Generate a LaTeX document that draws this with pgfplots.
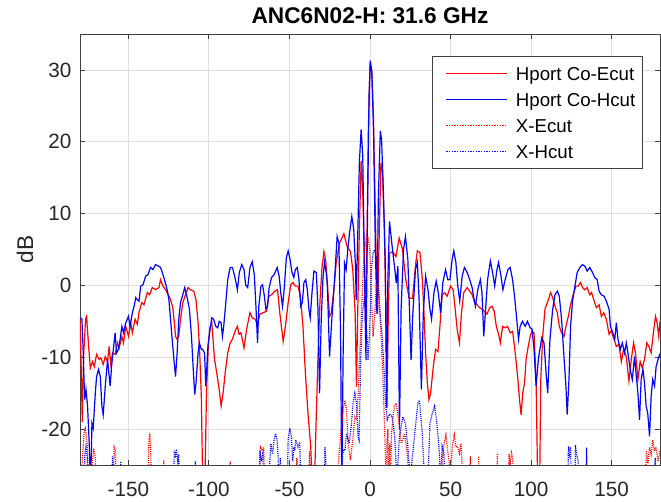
\documentclass[border=0pt]{standalone}
\usepackage{fontspec}
\setmainfont{Liberation Sans}
\usepackage{pgfplots}
\pgfplotsset{compat=1.18}
\begin{document}
\begin{tikzpicture}
\begin{axis}[
  name=ax,
  scale only axis, width=435pt, height=323.25pt,
  xmin=-180, xmax=180, ymin=-25, ymax=35,
  xtick={-150,-100,-50,0,50,100,150},
  xticklabels={-150,-100,-50,0,50,100,150},
  ytick={-20,-10,0,10,20,30},
  yticklabels={-20,-10,0,10,20,30},
  tick align=inside,
  major tick length=4pt,
  grid=major,
  grid style={draw=black!13, line width=0.6pt},
  axis line style={draw=black!75, line width=0.6pt},
  tick style={draw=black!75, line width=0.6pt},
  ticklabel style={font=\fontsize{15.5}{18}\selectfont, text=black!85},
  xticklabel style={anchor=base, yshift=-24pt},
  yticklabel style={xshift=-3pt},
  title={\bfseries ANC6N02-H: 31.6 GHz},
  title style={font=\fontsize{17}{20}\selectfont, at={(0.5,1)}, anchor=base, yshift=1.75pt},
  ylabel={dB},
  every axis y label/.style={at={(axis description cs:0,0.5)}, xshift=-41.25pt, rotate=90, anchor=center, font=\fontsize{17}{20}\selectfont, text=black!85},
  legend style={at={(1,1)}, anchor=north east, xshift=-12.75pt, yshift=-16.5pt,
    draw=black!75, line width=0.6pt, fill=white,
    font=\fontsize{14}{16}\selectfont,
    inner xsep=3.5pt, inner ysep=3pt, row sep=0pt,
    cells={anchor=west},
    nodes={inner xsep=2pt, inner ysep=2.75pt, text height=12pt, text depth=2pt}},
]
\addplot[color=red, draw=red, line width=0.9pt,
  legend image code/.code={\path (-6.25pt,0pt) (49.75pt,0pt); \draw[draw=red, solid, line width=1.1pt] (0pt,0pt) -- (45.75pt,0pt);}] table {
-180 -4.5
-179.2 -12
-178.6 -19
-177.8 -10
-176.5 -4.6
-175.9 -4.3
-174.8 -8
-173.6 -11.5
-172.2 -10.6
-171.1 -11.3
-169.7 -9.6
-168.1 -10.3
-167 -10.1
-165.6 -11
-164.3 -9.9
-162.9 -10.6
-161.9 -8.5
-160.9 -11
-159.8 -9.4
-158.2 -9.6
-156.7 -8
-155.7 -8.7
-154 -7.1
-153 -8
-151.6 -5.7
-149.9 -7.1
-148.5 -5.2
-147.5 -6.6
-145.8 -4.7
-144.4 -5.4
-143.4 -3.8
-141.7 -2.4
-140.3 -2.7
-138.2 -1
-136.8 -1.3
-135.1 -0.3
-133.1 -0.6
-131 -0.3
-130 0.8
-128.5 -0.1
-126.9 -0.6
-125.2 -1.3
-123.8 -2
-122.4 -3.1
-121.5 -5
-120.7 -7.1
-119.7 -7.5
-118.7 -7.1
-117.6 -4.7
-116.2 -2.4
-114.5 -1.3
-112.9 -0.3
-111.5 -0.6
-109.4 -0.8
-108 -2
-106.7 -5.2
-105.7 -9.4
-104.7 -15.4
-103.8 -28
-102.5 -28
-101.5 -15
-100.3 -8
-99.2 -5.7
-98.2 -5.2
-96.5 -10.3
-95.1 -12.2
-93.6 -14.5
-92.4 -16.8
-91.2 -15
-89.9 -12.2
-88.3 -9.4
-86.8 -8
-85.4 -7.5
-83.8 -6.4
-82.3 -5.7
-81.3 -6.8
-80.1 -6.6
-78.2 -8.7
-76.6 -6.1
-74.5 -3.8
-73.1 -4.5
-71.4 -4.7
-69.8 -5.4
-68.3 -4
-66.3 -3.8
-64.2 -3.6
-62.8 -1.5
-61.1 -1.3
-59.1 -0.8
-57.4 -0.6
-56 -3.8
-53.9 -7.8
-52.5 -5.7
-50.8 -2.4
-49.2 0.1
-47.8 0.4
-46.3 -0.1
-44.7 -0.1
-43.2 -1.5
-41.6 -5.7
-40.1 -12.2
-38.5 -17.8
-36.8 -22.4
-35.8 -28
-34.5 -28
-33.3 -17.8
-32.3 -10
-31 -2
-29.8 2.5
-28.6 4.7
-27.5 3.5
-26.5 0.3
-25.1 -4.3
-24.1 -3.9
-22.4 -0.6
-21 3.1
-18.9 5.9
-16.2 7.2
-14.2 5.4
-12.1 4.7
-10.7 2.2
-9.2 -3.9
-8.4 -14.1
-7.6 -3.4
-6.6 7.8
-5.5 17.3
-4.5 13.3
-3.5 3.1
-2.8 -6
-1.8 7.8
-1 21.7
0 30.6
1 30.1
2.1 24
3.1 12.4
3.9 3.1
4.7 -3.9
5.8 7.8
6.8 17.1
7.8 15.7
8.9 7.8
9.9 -3.9
10.5 -17
11.3 -5
12.2 4.5
14 4.7
16.1 4
18.1 6.6
20.2 5
22.2 0.8
24.3 -1.8
26.4 -1.8
28.4 3.1
29.4 4.8
31 4.6
32.5 0.8
33.5 -3.8
34.5 -9.4
35.6 -13.6
36.6 -15.9
37.6 -15
39.3 -11.3
40.7 -8.9
42.2 -9.2
43.4 -5.7
44.8 -1.3
46.3 -1
47.9 -1.5
50 -0.1
51.6 -0.6
53.1 -3.8
54.1 -6.1
55.5 -8
56.8 -3.8
58.2 -1
60.3 -0.3
61.9 -0.8
63.4 -1.3
64.8 -2.2
66.4 -2.7
68.1 -3.1
69.5 -3.3
71 -3.6
72.6 -4
74.3 -3.1
75.7 -2.9
77.1 -3.6
78.4 -5.7
79.8 -6.8
80.9 -8
82.3 -5.7
83.9 -5.9
85.4 -5.7
87 -6.6
88.5 -6.4
89.7 -8.5
90.7 -10.6
91.8 -13.1
92.8 -15.9
93.8 -18
94.8 -15
95.9 -13.6
96.9 -10.3
97.9 -8.9
99.4 -7.1
100.4 -6.4
101.8 -6.6
103.1 -13.1
104.1 -28
105.3 -28
106 -13.1
107.2 -7.1
108.6 -3.3
110.7 -2
112.1 -1
113.4 -1.7
114.8 -2.9
116.3 -3.8
117.5 -5.7
118.9 -6.6
120.4 -7.1
121.6 -5.7
123.1 -4.3
124.5 -2.7
126.1 -1.3
127.8 -0.1
129.2 -0.1
130.7 0.4
131.9 -0.3
133.3 -0.6
134.8 -0.3
136.4 -1.3
137.5 -1
138.9 -2
140.5 -3.1
142.2 -2.7
143.6 -4.3
145.1 -3.8
146.7 -4.7
148.4 -6.8
149.8 -6.3
151.2 -7.3
152.9 -8.5
154.5 -8.2
156 -10.6
157.4 -8.9
159.1 -9.9
160.7 -13.3
162.2 -10.3
163.6 -8
164.8 -9.4
166.3 -13.1
167.7 -10.6
169 -11.5
170.4 -10.3
171.8 -8
173.1 -8.5
174.5 -9.4
175.9 -6.6
177.2 -4.3
178.2 -5.2
179.2 -7.1
180 -5
};
\addlegendentry{Hport Co-Ecut}
\addplot[color=blue, draw=blue, line width=0.9pt,
  legend image code/.code={\path (-6.25pt,0pt) (49.75pt,0pt); \draw[draw=blue, solid, line width=1.1pt] (0pt,0pt) -- (45.75pt,0pt);}] table {
-180 -4.5
-178.8 -4.7
-178 -9.4
-177.1 -15.9
-176.3 -14.5
-175.3 -16.8
-174.2 -22.4
-173.6 -27
-173 -24
-172.6 -19.2
-171.8 -19.9
-170.5 -15
-169.7 -12.7
-168.5 -11.7
-167.4 -12.7
-166.4 -16.8
-165.6 -18
-164.3 -14
-162.9 -10.3
-162.3 -11.7
-161.3 -14
-160.2 -10.8
-159.2 -8.7
-158.2 -6.6
-157.3 -9.4
-156.1 -8.9
-155.1 -7.5
-154 -5.7
-153 -6.6
-151.6 -5.2
-149.9 -4.3
-148.9 -5.7
-147.5 -3.8
-146.4 -2.9
-145.4 -1.7
-144.4 -2
-143.4 -2.2
-142.3 -0.1
-140.9 0.1
-139.2 1.3
-137.8 1.5
-136.2 2.5
-134.7 2.2
-133.1 2.9
-131.4 2.7
-130 2.5
-128.5 1.5
-127.3 0.6
-125.9 -0.6
-124.8 -2
-123.8 -4.7
-122.8 -7.5
-121.7 -10.3
-120.7 -12.7
-119.7 -9.4
-118.7 -4.7
-117.6 -2.4
-116.2 -1.3
-115 -0.3
-113.5 -1.7
-112.1 -3.3
-110.8 -7.1
-109.8 -11.3
-108.8 -15.2
-108 -13.6
-106.7 -9.4
-105.9 -8
-104.7 -8.9
-103.9 -8.9
-102.7 -9.4
-101.9 -14
-100.6 -8.5
-99.6 -6.6
-98.2 -4.5
-97.1 -4.7
-95.7 -5.7
-94.5 -5.9
-93.6 -5
-92.4 -5.2
-91.6 -7.1
-90.8 -5.7
-89.5 -2.4
-88.3 0.8
-86.8 2.5
-85.4 2.5
-83.8 1.1
-82.3 -0.6
-81.1 1.8
-79.6 2.9
-78.2 2.2
-77.2 0.1
-75.9 -0.3
-74.5 2.5
-73.1 3.3
-71.8 1.5
-70.8 -2.9
-69.8 -8
-69 -2.9
-67.7 -0.1
-66.7 0.1
-65.7 -1.3
-64.6 -3.3
-63.6 -2.9
-62.6 -0.3
-61.1 1.1
-59.5 1.5
-57.6 2.5
-56.4 1.3
-55.4 -1
-54.3 -2.9
-53.3 -0.6
-51.9 3.9
-50.8 4.8
-49.6 3.6
-48.4 1.8
-47.3 1.1
-46.3 2.2
-45.1 2.5
-44.1 0.8
-43 -2.9
-42 -2.4
-41 0.4
-39.9 0.8
-38.9 -0.6
-37.9 -3.3
-37.1 -4.5
-36 -1
-34.8 2
-33.3 1.8
-32.3 -3.3
-31.3 -15
-30.3 -5
-29.2 1
-28.2 3.3
-27.3 2
-26.5 0.3
-25.1 -9.9
-23.7 -4.8
-22 0.8
-20.4 6.8
-19.3 5.9
-18.3 -6.2
-17.5 -28
-16.7 -10
-15.8 3.1
-14.8 2.2
-13.8 5
-12.7 7.3
-11.3 9.6
-10.1 7.8
-9 2.7
-8.6 -2
-7.8 5
-6.6 17.1
-5.5 21.7
-4.5 18
-3.5 3.1
-2.5 -10.4
-1.4 12.4
-0.6 26.4
0.2 31.3
1.2 29.6
2.3 20.3
3.3 5.4
4.3 -4
5.2 12.4
6.4 21.5
7.2 20.3
8.4 12.4
9.5 3.1
10.3 -17
11 0
12.1 8.9
14.2 4.5
15.2 2.7
16.3 0.3
17.3 2.7
18.3 -20
19.3 -3.4
20.8 5
22 6.8
23.5 3.6
24.5 -3.4
25.5 -10.4
26.5 -4.3
28.2 2.2
29.4 3.2
30.4 -1.5
31.9 -14.5
33.1 -3.8
34.5 1.3
36 -0.6
37.2 -3.3
38.2 -4.7
39.7 -1
41.1 0.6
42.4 -1
43.8 -3.8
45.2 0.4
46.9 2.2
48.3 0.8
49.6 0.8
51 3.6
52 4.8
53.3 3.2
54.5 -0.1
55.7 -2.2
57.2 1.3
58.6 2.5
60.3 1.8
61.9 0.8
63.4 -0.3
64.4 -1.7
65.4 -2.9
66.9 -0.6
68.5 0.8
69.5 -1
70.6 -7.1
71.6 -3.8
73 0.8
74.7 3.4
76.1 1.8
77.4 -0.1
78.8 2.2
79.8 3.2
81.3 1.3
82.5 -0.6
83.9 0.8
85.6 2.2
87 2.5
88.5 0.8
89.7 -1.5
90.7 -3.8
92.2 -7.5
93.2 -5.7
94.6 -5
96.3 -5.7
97.7 -5
99.4 -5.9
100.6 -6.1
101.8 -8.9
103.1 -14
104.5 -10.3
105.1 -9.4
106.6 -7.3
108 -8
109.3 -12.2
110.3 -15
111.7 -7.5
113.4 -3.3
114.8 -1.3
116.3 -0.8
117.5 -1.5
118.9 -4.7
120.4 -9.9
121.6 -14
122.4 -18
123.5 -13.1
124.5 -5.7
125.7 -2.2
127.2 -0.1
128.6 1.8
130.3 2.5
131.9 2.9
133.3 2.7
134.8 2
136.4 2.5
138.1 1.8
139.5 1.1
141 0.8
142.2 -0.8
143.6 -1.3
145.3 -1.5
146.7 -2.2
148.4 -3.3
149.2 -5.7
150.4 -6.4
151.9 -7.5
152.9 -5.2
153.9 -7.5
155.4 -8.9
156.6 -8
158 -9.4
159.1 -8
160.1 -9.4
161.5 -11.7
162.8 -13.1
164.2 -9.9
165.2 -12.4
166.3 -15
167.3 -18.7
168.3 -13.1
169.4 -11.7
170.4 -13.6
171.4 -16.8
172.4 -17.8
173.5 -21
174.5 -15.4
175.5 -13.1
176.6 -14
177.6 -11.3
178.8 -10.3
180 -9.5
};
\addlegendentry{Hport Co-Hcut}
\addplot[color=red, draw=red, line width=0.9pt, dash pattern=on 0.8pt off 0.8pt,
  legend image code/.code={\path (-6.25pt,0pt) (49.75pt,0pt); \draw[draw=red, line width=1.1pt, dash pattern=on 1pt off 1pt] (0pt,0pt) -- (45.75pt,0pt);}] table {
-180 -30
-178.5 -24
-177.5 -20.5
-176.7 -19.9
-176 -21
-175.3 -23
-174.5 -30
-172.5 -25
-171.5 -22.7
-170.5 -24
-169.5 -30
-159.5 -30
-158.8 -22.5
-158 -23
-157.3 -30
-138 -30
-137.2 -21.5
-136.7 -20.5
-136.2 -22
-135.5 -30
-128.5 -30
-128 -24.3
-127.5 -30
-88 -30
-86.8 -24.5
-86 -30
-69 -30
-68 -22.5
-67 -23
-66 -22.5
-65 -30
-46 -30
-45.4 -24
-44.5 -30
-38.5 -30
-37.5 -23
-36.5 -30
-20.5 -30
-19.7 -25
-18.3 -21
-16.6 -17.3
-15.6 -16
-14.6 -17.3
-13.6 -22
-12.1 -24.3
-10.9 -22
-9.4 -18.3
-8.4 -18.7
-7.4 -15.5
-6.4 -9.9
-5.3 -3.9
-4.3 1.7
-3.3 5
-2.2 6.8
-1.2 6.8
-0.2 5
0.9 -1.5
1.9 -7.1
2.9 -4.3
3.9 -0.1
5 0.3
6 -3.4
7 -7.6
8.1 -13.2
9.1 -20.1
10.1 -28
10.6 -22
11.1 -20
11.6 -28
12.2 -22
12.7 -28
13.3 -21
14.2 -18.3
15.2 -16.8
16.3 -16.4
17.7 -18.7
19.4 -22
20.4 -21.5
21.4 -20.6
22.9 -22.9
24.5 -28
44 -30
45.2 -23.5
46 -22
47.1 -20.8
48.2 -23
49 -24.3
50 -27
51 -22.5
52.3 -20.8
53.3 -22.5
54.2 -22.4
55.5 -23.4
56.4 -22
57.5 -26
58.5 -30
61.5 -30
62.3 -23.8
63 -30
67 -30
67.5 -23.8
68 -30
78.5 -30
79 -23.4
79.6 -30
85.5 -30
86.3 -23.5
87 -25
87.8 -23.3
88.6 -24
89.3 -30
170.5 -30
171.6 -23
172.5 -24.8
173.5 -22.5
174.5 -23.5
175.5 -21.5
176.5 -23
177.5 -22.5
178.9 -24.5
180 -23
};
\addlegendentry{X-Ecut}
\addplot[color=blue, draw=blue, line width=0.9pt, dash pattern=on 0.8pt off 0.8pt,
  legend image code/.code={\path (-6.25pt,0pt) (49.75pt,0pt); \draw[draw=blue, line width=1.1pt, dash pattern=on 1pt off 1pt] (0pt,0pt) -- (45.75pt,0pt);}] table {
-180 -30
-177.5 -30
-177 -23.5
-176.3 -22.5
-175.5 -24
-174.8 -30
-160.5 -30
-159.8 -23.8
-159.2 -30
-155 -30
-154.7 -24.5
-154.3 -30
-122 -30
-121.5 -23
-120.8 -24
-120.2 -22.8
-119.3 -24.5
-118.7 -23.5
-118 -30
-109 -30
-108.4 -24.5
-107.8 -30
-69 -30
-68.3 -23
-67.5 -24.5
-66.5 -23.4
-65.8 -30
-63 -30
-62.2 -24.5
-61.5 -22
-60.5 -23.5
-59.5 -21.5
-58.6 -20.6
-57.7 -21.5
-57 -24
-56.5 -30
-55.7 -24
-55 -30
-51.5 -30
-50.8 -21.5
-49.8 -19.9
-48.8 -21
-48 -24.5
-47.3 -22.5
-46.7 -23
-46 -21.5
-45.4 -22
-44.7 -22.5
-43.6 -21.8
-42.8 -30
-28.5 -30
-28 -22.5
-27.3 -25
-26.8 -30
-17.7 -30
-17 -23.5
-16.2 -22.8
-15.6 -23
-14.6 -20.6
-12.9 -22
-11.5 -19.2
-10.5 -16.4
-9.4 -15
-8.4 -16.4
-7.4 -21
-6.8 -21.5
-5.7 -9.9
-4.7 -3.9
-3.3 -1.5
-2.2 -5.7
-1.2 -10.4
-0.2 -6.2
0.9 2.2
1.9 4.5
2.9 5
3.9 4
5 0.8
6.4 -4.3
7.6 -7.1
8.7 -11.8
9.7 -16.4
10.7 -18.7
12.2 -17.9
13.8 -18.3
15.3 -21
16.7 -27
18.3 -21
20.4 -18.3
22 -19.2
23.5 -22.5
24.9 -27
27.6 -21
29.7 -16.4
30.7 -16
32.3 -20.1
33.8 -27
36 -27
37.2 -19.2
38.7 -17.8
40.1 -16.8
41.3 -18.7
42.8 -22.4
43.8 -27
44.8 -22.4
45.9 -23.4
46.8 -30
122.5 -30
123.2 -22.4
123.8 -23.5
124.5 -22.5
125.2 -30
127 -30
127.5 -22.2
128.2 -23.5
129.2 -24.5
129.8 -30
134 -30
134.4 -22.6
134.9 -30
176.5 -30
177 -24
178 -30
180 -30
};
\addlegendentry{X-Hcut}
\end{axis}
\pgfresetboundingbox
\path[use as bounding box] ([xshift=-60pt,yshift=-27.75pt]ax.south west) rectangle ([xshift=0.75pt,yshift=25.5pt]ax.north east);
\end{tikzpicture}
\end{document}
